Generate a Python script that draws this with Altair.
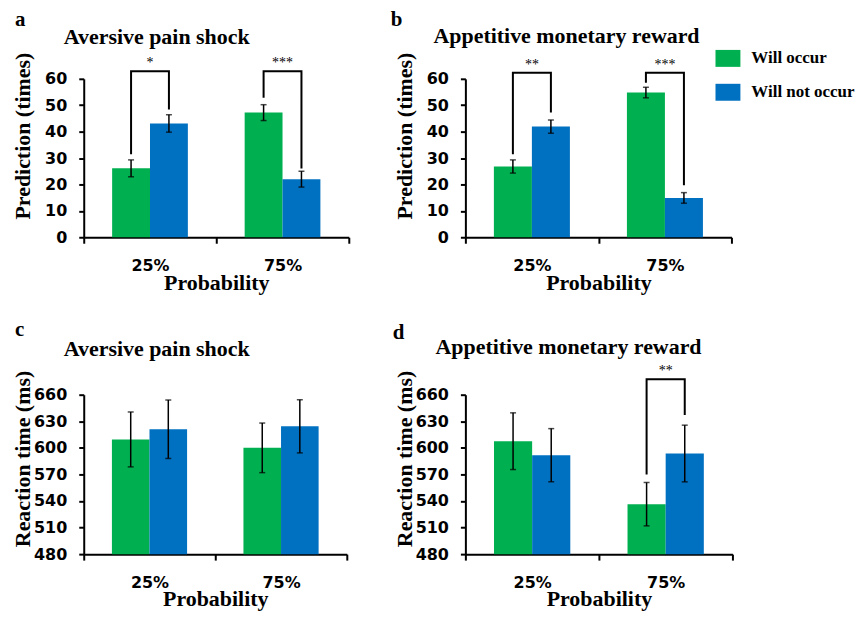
import altair as alt
import pandas as pd

probs = ["25%", "75%"]
outcomes = ["Will occur", "Will not occur"]
bar_colors = ["#00B050", "#0070C0"]

# order of values: 25% occur, 25% not occur, 75% occur, 75% not occur
a_mean = [26.1, 43.1, 47.2, 22.0]
a_err = [3.2, 3.3, 3.0, 3.0]
b_mean = [26.8, 41.9, 54.8, 14.9]
b_err = [2.5, 2.5, 2.0, 2.0]
c_mean = [609.5, 621.0, 600.0, 624.3]
c_err = [31.0, 33.0, 28.0, 30.0]
d_mean = [607.5, 591.7, 536.4, 593.6]
d_err = [32.0, 30.0, 24.5, 32.0]

pred_ticks = [0, 10, 20, 30, 40, 50, 60]
rt_ticks = [480, 510, 540, 570, 600, 630, 660]

# significance brackets
a_sig_prob = ["25%", "75%"]
a_sig_top = [62.9, 62.9]
a_sig_occur_end = [31.4, 52.8]
a_sig_not_end = [48.4, 26.0]
a_sig_label = ["*", "***"]

b_sig_prob = ["25%", "75%"]
b_sig_top = [62.3, 62.3]
b_sig_occur_end = [31.4, 58.5]
b_sig_not_end = [47.2, 19.7]
b_sig_label = ["**", "***"]

d_sig_prob = ["75%"]
d_sig_top = [677.5]
d_sig_occur_end = [570.0]
d_sig_not_end = [637.0]
d_sig_label = ["**"]

SERIF = "Liberation Serif"
SANS = "DejaVu Sans"


def bars_df(mean, err):
    rows = []
    i = 0
    for p in probs:
        for o in outcomes:
            rows.append({"prob": p, "outcome": o, "mean": mean[i],
                         "lo": mean[i] - err[i], "hi": mean[i] + err[i]})
            i += 1
    return pd.DataFrame(rows)


def sig_df(sp, top, occ_end, not_end):
    rows = []
    for k, p in enumerate(sp):
        pts = [(outcomes[0], occ_end[k]), (outcomes[0], top[k]),
               (outcomes[1], top[k]), (outcomes[1], not_end[k])]
        for j, (o, v) in enumerate(pts):
            rows.append({"prob": p, "outcome": o, "v": v, "ord": j, "br": k})
    return pd.DataFrame(rows)


def panel(bars, sig, stars, letter, lpos, heading, hpos, ytitle, ydomain,
          yticks, ytitle_y, w, h, legend):
    x = alt.X("prob:N", sort=probs,
              scale=alt.Scale(domain=probs, paddingInner=0, paddingOuter=0),
              axis=alt.Axis(title="Probability", labelAngle=0, tickSize=6,
                            labelPadding=14, titlePadding=-1, tickBand="extent"))
    xo = alt.XOffset("outcome:N", sort=outcomes,
                     scale=alt.Scale(domain=outcomes, paddingInner=0, paddingOuter=0.75))
    ysc = alt.Scale(domain=ydomain, nice=False, zero=False)
    yax = alt.Axis(title=ytitle, values=yticks, tickSize=5, labelPadding=12,
                   titleX=-49, titleY=ytitle_y)
    y = alt.Y("mean:Q", scale=ysc, axis=yax, title=ytitle)
    if legend:
        lg = alt.Legend(orient="none", legendX=251, legendY=-33, title=None,
                        symbolType="M-1,-0.68L1,-0.68L1,0.68L-1,0.68Z",
                        symbolSize=625, symbolStrokeWidth=0, symbolOpacity=1,
                        labelFont=SERIF, labelFontSize=17, labelFontWeight="bold",
                        labelColor="black", labelOffset=11, rowPadding=13,
                        labelLimit=300)
    else:
        lg = None
    color = alt.Color("outcome:N", sort=outcomes,
                      scale=alt.Scale(domain=outcomes, range=bar_colors), legend=lg)
    base = alt.Chart(bars)
    bar = base.mark_bar().encode(x=x, xOffset=xo, y=y, y2=alt.datum(ydomain[0]),
                                 color=color)
    err = base.mark_rule(color="black", strokeWidth=1.5).encode(
        x=x, xOffset=xo, y=alt.Y("lo:Q", scale=ysc, axis=yax, title=ytitle), y2="hi:Q")
    cap_lo = base.mark_tick(color="black", thickness=1.5, size=6, orient="horizontal").encode(
        x=x, xOffset=xo, y=alt.Y("lo:Q", scale=ysc, axis=yax, title=ytitle))
    cap_hi = base.mark_tick(color="black", thickness=1.5, size=6, orient="horizontal").encode(
        x=x, xOffset=xo, y=alt.Y("hi:Q", scale=ysc, axis=yax, title=ytitle))
    layers = [bar, err, cap_lo, cap_hi]
    if sig is not None:
        line = alt.Chart(sig).mark_line(color="black", strokeWidth=2).encode(
            x=x, xOffset=xo, y=alt.Y("v:Q", scale=ysc, axis=yax, title=ytitle),
            detail="br:N", order="ord:Q")
        txt = alt.Chart(stars).mark_text(font=SERIF, fontSize=14, color="black",
                                         baseline="alphabetic", dy=-4).encode(
            x=x, y=alt.Y("v:Q", scale=ysc, axis=yax, title=ytitle), text="label:N")
        layers += [line, txt]
    lt = alt.Chart(pd.DataFrame({"t": [letter]})).mark_text(
        align="left", baseline="alphabetic", font=SERIF, fontSize=21,
        fontWeight="bold", color="black").encode(
        x=alt.value(lpos[0]), y=alt.value(lpos[1]), text="t:N")
    ht = alt.Chart(pd.DataFrame({"t": [heading]})).mark_text(
        align="left", baseline="alphabetic", font=SERIF, fontSize=22,
        fontWeight="bold", color="black").encode(
        x=alt.value(hpos[0]), y=alt.value(hpos[1]), text="t:N")
    layers += [lt, ht]
    return alt.layer(*layers).properties(width=w, height=h)


def stars_df(sp, top, lab):
    return pd.DataFrame({"prob": sp, "v": top, "label": lab})


pa = panel(bars_df(a_mean, a_err),
           sig_df(a_sig_prob, a_sig_top, a_sig_occur_end, a_sig_not_end),
           stars_df(a_sig_prob, a_sig_top, a_sig_label),
           "a", (-69, -53), "Aversive pain shock", (-20, -35),
           "Prediction (times)", [0, 60], pred_ticks, 57, 266, 159, False)
pb = panel(bars_df(b_mean, b_err),
           sig_df(b_sig_prob, b_sig_top, b_sig_occur_end, b_sig_not_end),
           stars_df(b_sig_prob, b_sig_top, b_sig_label),
           "b", (-75, -53), "Appetitive monetary reward", (-32, -36),
           "Prediction (times)", [0, 60], pred_ticks, 57, 267, 159, True)
pc = panel(bars_df(c_mean, c_err), None, None,
           "c", (-69, -59), "Aversive pain shock", (-20, -39),
           "Reaction time (ms)", [480, 660], rt_ticks, 64, 264, 160, False)
pdd = panel(bars_df(d_mean, d_err),
            sig_df(d_sig_prob, d_sig_top, d_sig_occur_end, d_sig_not_end),
            stars_df(d_sig_prob, d_sig_top, d_sig_label),
            "d", (-73, -56), "Appetitive monetary reward", (-30, -41),
            "Reaction time (ms)", [480, 660], rt_ticks, 64, 268, 160, False)

chart = alt.concat(pa, pb, pc, pdd, columns=2).properties(
    bounds="flush", spacing={"row": 158, "column": 117},
    padding={"left": 4, "top": 0, "right": 0, "bottom": 0},
).resolve_scale(
    x="independent", y="independent", color="independent", xOffset="independent"
).configure_view(stroke=None).configure_axis(
    domainColor="black", domainWidth=2, tickColor="black", tickWidth=2,
    labelColor="black", labelFont=SANS, labelFontSize=16, labelFontWeight="bold",
    titleColor="black", titleFont=SERIF, titleFontSize=22, titleFontWeight="bold",
    grid=False,
)

chart.save("out.html", embed_options={"renderer": "svg", "actions": False})
